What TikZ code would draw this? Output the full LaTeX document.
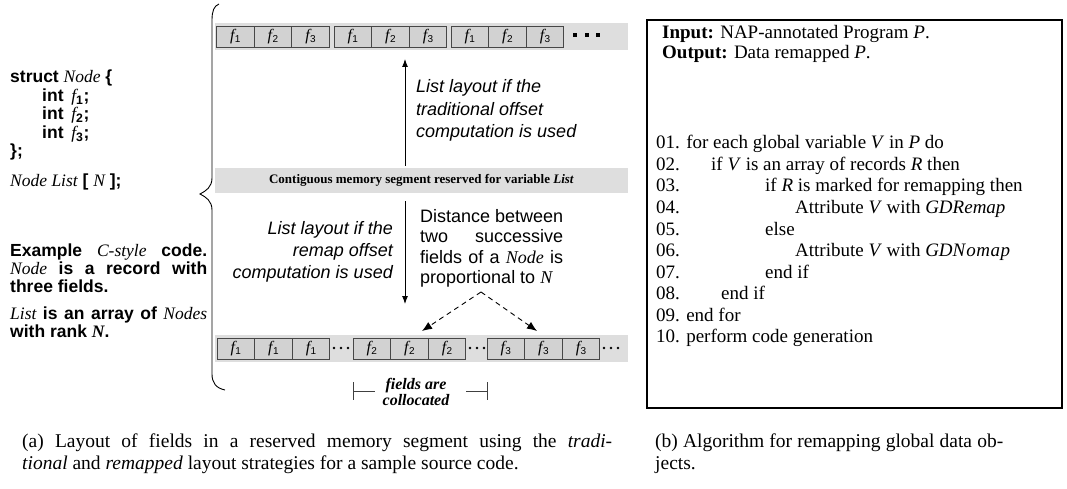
\documentclass[tikz,border=0pt]{standalone}
\usepackage{fontspec}
\setmainfont{Liberation Serif}
\setsansfont{Liberation Sans}
\usetikzlibrary{arrows.meta}
\newcommand\fsz[1]{\fontsize{#1}{#1}\selectfont}
\newcommand\tm[1]{{\rmfamily\mdseries\itshape #1}}
\newcommand\fld[1]{{\rmfamily\itshape f}\kern0.4pt\raisebox{-2.5pt}{\sffamily\fsz{10}#1}}
\definecolor{bandgray}{HTML}{DEDEDE}
\definecolor{cellgray}{HTML}{D2D2D2}
\tikzset{
  code/.style={anchor=base west, inner sep=0pt, font=\sffamily\bfseries\fsz{17.5}},
  alg/.style={anchor=base west, inner sep=0pt, font=\rmfamily\fsz{19}},
  note/.style={inner sep=0pt, font=\sffamily\itshape\fsz{18}},
  plain/.style={inner sep=0pt, font=\sffamily\fsz{18}},
  capt/.style={anchor=base west, inner sep=0pt, font=\rmfamily\fsz{19.5}},
  cell/.style={draw=black!72, fill=cellgray, line width=0.8pt, minimum width=37.6pt,
               minimum height=21pt, inner sep=0pt, font=\fsz{16}},
  band/.style={fill=bandgray, draw=none},
  arr/.style={-{Latex[length=8pt,width=6pt]}, line width=0.9pt},
  darr/.style={dash pattern=on 5pt off 4pt, -{Latex[length=10pt,width=8pt]}, line width=0.9pt},
  brk/.style={draw=black!75, line width=0.8pt},
  dotm/.style={fill=black, draw=none},
}
\begin{document}
\begin{tikzpicture}[x=1pt,y=-1pt]
\useasboundingbox (0,0) rectangle (1067,489);

% ---------- left code ----------
\node[code] (c1) at (10,83) {struct \tm{Node} \{};
\node[code] (c2) at (42,102) {int~\,\tm{f}\textsubscript{1};};
\node[code] (c3) at (42,120) {int~\,\tm{f}\textsubscript{2};};
\node[code] (c4) at (42,139) {int~\,\tm{f}\textsubscript{3};};
\node[code] (c5) at (10,157) {\};};
\node[code] (c6) at (10,186) {\tm{Node List} [ \tm{N} ];};

\node[code] (p1) at (10,256) {\hbox to 197pt{Example \tm{C-style} code.}};
\node[code] (p2) at (10,274) {\hbox to 197pt{\tm{Node} is a record with}};
\node[code] (p3) at (10,292) {three fields.};
\node[code] (p4) at (10,319) {\hbox to 197pt{\tm{List} is an array of \tm{Nodes}}};
\node[code] (p5) at (10,337) {with rank {\rmfamily\bfseries\itshape N}.};

% ---------- brace ----------
\draw[line width=0.9pt] (219,4) .. controls (214,6) and (212,11) .. (212,20)
  -- (212,178) .. controls (212,187) and (206,191) .. (200,194)
  .. controls (206,197) and (212,201) .. (212,210)
  -- (212,374) .. controls (212,383) and (216,388) .. (225,390);

% ---------- bands ----------
\fill[band] (215,23) rectangle (628,50);
\node[band, minimum width=413pt, minimum height=25pt, inner sep=0pt,
      font=\rmfamily\bfseries\fsz{13}] (mid) at (421.5,180.5)
      {Contiguous memory segment reserved for variable \textit{List}};
\fill[band] (215,335) rectangle (628,362);

% top cells
\foreach \gx [count=\g] in {216.5,334,451}{
  \foreach \k in {1,2,3}{
    \node[cell] (t\g\k) at ({\gx+18.8+37.6*(\k-1)},36.5) {\fld{\k}};
  }
}
\foreach \dx in {575,586.5,598}{
  \fill[dotm] (\dx-2,33) rectangle (\dx+2,37);
}

% bottom cells
\foreach \gx/\k [count=\g] in {217/1,353/2,487/3}{
  \foreach \j in {1,2,3}{
    \node[cell] (b\g\j) at ({\gx+18.8+37.6*(\j-1)},348.5) {\fld{\k}};
  }
}
\foreach \sx in {334,470,604}{
  \foreach \o in {0,7,14}{
    \fill[dotm] (\sx+\o,348) circle (1.3pt);
  }
}

% ---------- arrows ----------
\coordinate (upS) at (405,166);
\coordinate (upE) at (405,59);
\draw[arr] (upS) -- (upE);
\coordinate (dnS) at (405,201);
\coordinate (dnE) at (405,304);
\draw[arr] (dnS) -- (dnE);

\node[note, anchor=base west] (n1a) at (416,93) {List layout if the};
\node[note, anchor=base west] (n1b) at (416,116) {traditional offset};
\node[note, anchor=base west] (n1c) at (416,138) {computation is used};

\node[note, anchor=base east] (n2a) at (393,234) {List layout if the};
\node[note, anchor=base east] (n2b) at (393,256.5) {remap offset};
\node[note, anchor=base east] (n2c) at (393,278) {computation is used};

\node[plain, anchor=base west] (d1) at (420,222.5) {\hbox to 143pt{Distance between}};
\node[plain, anchor=base west] (d2) at (420,242.5) {\hbox to 143pt{two successive}};
\node[plain, anchor=base west] (d3) at (420,263) {\hbox to 143pt{fields of a \tm{Node} is}};
\node[plain, anchor=base west] (d4) at (420,283.5) {proportional to \tm{N}};

\coordinate (apex) at (481,292);
\coordinate (tipL) at (422,331);
\coordinate (tipR) at (537,331);
\draw[darr] (apex) -- (tipL);
\draw[darr] (apex) -- (tipR);

% fields are collocated
\node[inner sep=0pt, align=center, anchor=center,
      font=\rmfamily\bfseries\itshape\fontsize{16}{11.5}\selectfont] (fc) at (416,392)
      {fields are\\collocated};
\draw[brk] (353,382) -- (353,400);
\draw[brk] (353,391) -- (375,391);
\draw[brk] (487,382) -- (487,400);
\draw[brk] (466,391) -- (487,391);

% ---------- algorithm box ----------
\draw[line width=2pt] (647,20) rectangle (1062,408);
\node[alg] (in) at (662,39) {\textbf{Input:} NAP-annotated Program \textit{P}.};
\node[alg] (out) at (662,58.5) {\textbf{Output:} Data remapped \textit{P}.};

\node[alg] (l01) at (656,149) {01. for each global variable \textit{V} in \textit{P} do};
\node[alg] (n02) at (656,170.5) {02.};
\node[alg] (l02) at (711,170.5) {if \textit{V} is an array of records \textit{R} then};
\node[alg] (n03) at (656,192) {03.};
\node[alg] (l03) at (765,192) {if \textit{R} is marked for remapping then};
\node[alg] (n04) at (656,213.5) {04.};
\node[alg] (l04) at (795,213.5) {Attribute \textit{V} with \textit{GDRemap}};
\node[alg] (n05) at (656,235) {05.};
\node[alg] (l05) at (765,235) {else};
\node[alg] (n06) at (656,256.5) {06.};
\node[alg] (l06) at (795,256.5) {Attribute \textit{V} with \textit{GDN\kern1pt o\kern0.5pt m\kern0.5pt a\kern0.5pt p}};
\node[alg] (n07) at (656,278) {07.};
\node[alg] (l07) at (765,278) {end if};
\node[alg] (n08) at (656,299.5) {08.};
\node[alg] (l08) at (721,299.5) {end if};
\node[alg] (l09) at (656,321) {09. end for};
\node[alg] (l10) at (656,342.5) {10. perform code generation};

% ---------- captions ----------
\node[capt] (ca1) at (22,447) {\hbox to 590pt{(a) Layout of fields in a reserved memory segment using the \textit{tradi-}}};
\node[capt] (ca2) at (22,469) {\textit{tional} and \textit{remapped} layout strategies for a sample source code.};
\node[capt] (cb1) at (655,447) {\hbox to 348pt{(b) Algorithm for remapping global data ob-}};
\node[capt] (cb2) at (655,469) {jects.};
\end{tikzpicture}
\end{document}
